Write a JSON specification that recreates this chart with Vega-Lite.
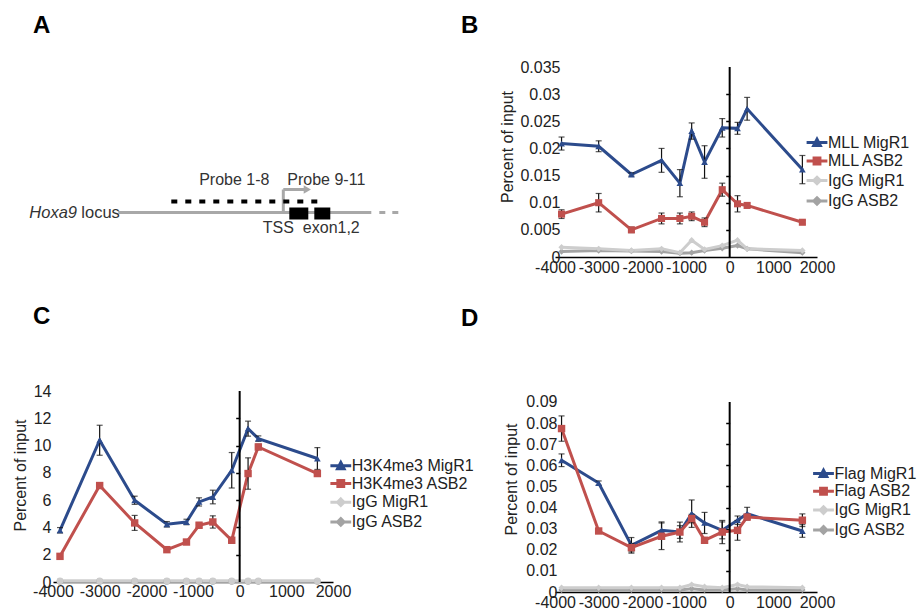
{
  "$schema": "https://vega.github.io/schema/vega-lite/v6.json",
  "background": "white",
  "padding": {"left": 12, "top": 13, "right": 4, "bottom": 4},
  "columns": 2,
  "bounds": "flush",
  "align": "all",
  "spacing": {"row": 123, "column": 222},
  "resolve": {"scale": {"color": "independent", "shape": "independent"}, "legend": {"color": "independent", "shape": "independent"}},
  "config": {
    "view": {"stroke": null},
    "font": "Liberation Sans",
    "axis": {"labelFont": "Liberation Sans", "labelFontSize": 16, "labelColor": "#222", "titleFont": "Liberation Sans", "titleFontSize": 16, "titleColor": "#222", "titleFontWeight": "normal", "grid": false},
    "legend": {"labelFont": "Liberation Sans", "labelFontSize": 16, "labelColor": "#222", "symbolStrokeWidth": 3, "labelOffset": 3, "symbolSize": 169, "rowPadding": 0.5},
    "title": {"font": "Liberation Sans", "fontSize": 24, "fontWeight": "bold", "color": "#000", "anchor": "start", "frame": "group"}
  },
  "datasets": {
    "B": [
      {"x":-3850,"s":"IgG ASB2","v":0.0010,"e":0},{"x":-3000,"s":"IgG ASB2","v":0.0012,"e":0},{"x":-2250,"s":"IgG ASB2","v":0.0011,"e":0},{"x":-1560,"s":"IgG ASB2","v":0.0010,"e":0},{"x":-1140,"s":"IgG ASB2","v":0.0007,"e":0},{"x":-870,"s":"IgG ASB2","v":0.0008,"e":0},{"x":-575,"s":"IgG ASB2","v":0.0012,"e":0},{"x":-170,"s":"IgG ASB2","v":0.0016,"e":0},{"x":180,"s":"IgG ASB2","v":0.0021,"e":0},{"x":400,"s":"IgG ASB2","v":0.0015,"e":0},{"x":1665,"s":"IgG ASB2","v":0.0008,"e":0},
      {"x":-3850,"s":"IgG MigR1","v":0.0018,"e":0},{"x":-3000,"s":"IgG MigR1","v":0.0015,"e":0},{"x":-2250,"s":"IgG MigR1","v":0.0012,"e":0},{"x":-1560,"s":"IgG MigR1","v":0.0015,"e":0},{"x":-1140,"s":"IgG MigR1","v":0.0008,"e":0},{"x":-870,"s":"IgG MigR1","v":0.0031,"e":0},{"x":-575,"s":"IgG MigR1","v":0.0014,"e":0},{"x":-170,"s":"IgG MigR1","v":0.0021,"e":0},{"x":180,"s":"IgG MigR1","v":0.0031,"e":0},{"x":400,"s":"IgG MigR1","v":0.0015,"e":0},{"x":1665,"s":"IgG MigR1","v":0.0012,"e":0},
      {"x":-3850,"s":"MLL MigR1","v":0.0209,"e":0.0012},{"x":-3000,"s":"MLL MigR1","v":0.0204,"e":0.0010},{"x":-2250,"s":"MLL MigR1","v":0.0152,"e":0.0003},{"x":-1560,"s":"MLL MigR1","v":0.0178,"e":0.0022},{"x":-1140,"s":"MLL MigR1","v":0.0136,"e":0.0025},{"x":-870,"s":"MLL MigR1","v":0.0232,"e":0.0015},{"x":-575,"s":"MLL MigR1","v":0.0175,"e":0.0030},{"x":-170,"s":"MLL MigR1","v":0.0238,"e":0.0017},{"x":180,"s":"MLL MigR1","v":0.0237,"e":0.0011},{"x":400,"s":"MLL MigR1","v":0.0273,"e":0.0021},{"x":1665,"s":"MLL MigR1","v":0.0161,"e":0.0026},
      {"x":-3850,"s":"MLL ASB2","v":0.0079,"e":0.0008},{"x":-3000,"s":"MLL ASB2","v":0.0100,"e":0.0017},{"x":-2250,"s":"MLL ASB2","v":0.0050,"e":0.0005},{"x":-1560,"s":"MLL ASB2","v":0.0071,"e":0.0010},{"x":-1140,"s":"MLL ASB2","v":0.0071,"e":0.0010},{"x":-870,"s":"MLL ASB2","v":0.0075,"e":0.0008},{"x":-575,"s":"MLL ASB2","v":0.0064,"e":0.0008},{"x":-170,"s":"MLL ASB2","v":0.0124,"e":0.0012},{"x":180,"s":"MLL ASB2","v":0.0098,"e":0.0015},{"x":400,"s":"MLL ASB2","v":0.0095,"e":0.0004},{"x":1665,"s":"MLL ASB2","v":0.0064,"e":0.0003}
    ],
    "C": [
      {"x":-3850,"s":"IgG ASB2","v":0.05,"e":0},{"x":-3000,"s":"IgG ASB2","v":0.05,"e":0},{"x":-2250,"s":"IgG ASB2","v":0.05,"e":0},{"x":-1560,"s":"IgG ASB2","v":0.05,"e":0},{"x":-1140,"s":"IgG ASB2","v":0.05,"e":0},{"x":-870,"s":"IgG ASB2","v":0.05,"e":0},{"x":-575,"s":"IgG ASB2","v":0.05,"e":0},{"x":-170,"s":"IgG ASB2","v":0.05,"e":0},{"x":180,"s":"IgG ASB2","v":0.05,"e":0},{"x":400,"s":"IgG ASB2","v":0.05,"e":0},{"x":1665,"s":"IgG ASB2","v":0.05,"e":0},
      {"x":-3850,"s":"IgG MigR1","v":0.08,"e":0},{"x":-3000,"s":"IgG MigR1","v":0.08,"e":0},{"x":-2250,"s":"IgG MigR1","v":0.08,"e":0},{"x":-1560,"s":"IgG MigR1","v":0.08,"e":0},{"x":-1140,"s":"IgG MigR1","v":0.08,"e":0},{"x":-870,"s":"IgG MigR1","v":0.08,"e":0},{"x":-575,"s":"IgG MigR1","v":0.08,"e":0},{"x":-170,"s":"IgG MigR1","v":0.08,"e":0},{"x":180,"s":"IgG MigR1","v":0.08,"e":0},{"x":400,"s":"IgG MigR1","v":0.08,"e":0},{"x":1665,"s":"IgG MigR1","v":0.08,"e":0},
      {"x":-3850,"s":"H3K4me3 MigR1","v":3.79,"e":0.2},{"x":-3000,"s":"H3K4me3 MigR1","v":10.39,"e":1.1},{"x":-2250,"s":"H3K4me3 MigR1","v":5.99,"e":0.3},{"x":-1560,"s":"H3K4me3 MigR1","v":4.23,"e":0.2},{"x":-1140,"s":"H3K4me3 MigR1","v":4.40,"e":0.2},{"x":-870,"s":"H3K4me3 MigR1","v":5.87,"e":0.3},{"x":-575,"s":"H3K4me3 MigR1","v":6.23,"e":0.5},{"x":-170,"s":"H3K4me3 MigR1","v":8.19,"e":1.3},{"x":180,"s":"H3K4me3 MigR1","v":11.24,"e":0.55},{"x":400,"s":"H3K4me3 MigR1","v":10.51,"e":0.2},{"x":1665,"s":"H3K4me3 MigR1","v":9.05,"e":0.8},
      {"x":-3850,"s":"H3K4me3 ASB2","v":1.88,"e":0.1},{"x":-3000,"s":"H3K4me3 ASB2","v":7.07,"e":0.2},{"x":-2250,"s":"H3K4me3 ASB2","v":4.33,"e":0.55},{"x":-1560,"s":"H3K4me3 ASB2","v":2.37,"e":0.1},{"x":-1140,"s":"H3K4me3 ASB2","v":2.93,"e":0.1},{"x":-870,"s":"H3K4me3 ASB2","v":4.16,"e":0.2},{"x":-575,"s":"H3K4me3 ASB2","v":4.40,"e":0.45},{"x":-170,"s":"H3K4me3 ASB2","v":3.06,"e":0.2},{"x":180,"s":"H3K4me3 ASB2","v":7.95,"e":1.15},{"x":400,"s":"H3K4me3 ASB2","v":9.90,"e":0.2},{"x":1665,"s":"H3K4me3 ASB2","v":7.95,"e":0.1}
    ],
    "D": [
      {"x":-3850,"s":"IgG ASB2","v":0.001,"e":0},{"x":-3000,"s":"IgG ASB2","v":0.001,"e":0},{"x":-2250,"s":"IgG ASB2","v":0.001,"e":0},{"x":-1560,"s":"IgG ASB2","v":0.001,"e":0},{"x":-1140,"s":"IgG ASB2","v":0.001,"e":0},{"x":-870,"s":"IgG ASB2","v":0.0015,"e":0},{"x":-575,"s":"IgG ASB2","v":0.001,"e":0},{"x":-170,"s":"IgG ASB2","v":0.001,"e":0},{"x":180,"s":"IgG ASB2","v":0.0015,"e":0},{"x":400,"s":"IgG ASB2","v":0.001,"e":0},{"x":1665,"s":"IgG ASB2","v":0.001,"e":0},
      {"x":-3850,"s":"IgG MigR1","v":0.002,"e":0},{"x":-3000,"s":"IgG MigR1","v":0.002,"e":0},{"x":-2250,"s":"IgG MigR1","v":0.002,"e":0},{"x":-1560,"s":"IgG MigR1","v":0.002,"e":0},{"x":-1140,"s":"IgG MigR1","v":0.002,"e":0},{"x":-870,"s":"IgG MigR1","v":0.0035,"e":0},{"x":-575,"s":"IgG MigR1","v":0.0025,"e":0},{"x":-170,"s":"IgG MigR1","v":0.002,"e":0},{"x":180,"s":"IgG MigR1","v":0.0035,"e":0},{"x":400,"s":"IgG MigR1","v":0.0025,"e":0},{"x":1665,"s":"IgG MigR1","v":0.002,"e":0},
      {"x":-3850,"s":"Flag MigR1","v":0.0624,"e":0.003},{"x":-3000,"s":"Flag MigR1","v":0.0516,"e":0.001},{"x":-2250,"s":"Flag MigR1","v":0.0221,"e":0.0037},{"x":-1560,"s":"Flag MigR1","v":0.0292,"e":0.004},{"x":-1140,"s":"Flag MigR1","v":0.0284,"e":0.0047},{"x":-870,"s":"Flag MigR1","v":0.0371,"e":0.0065},{"x":-575,"s":"Flag MigR1","v":0.0327,"e":0.005},{"x":-170,"s":"Flag MigR1","v":0.0292,"e":0.004},{"x":180,"s":"Flag MigR1","v":0.0340,"e":0.002},{"x":400,"s":"Flag MigR1","v":0.0371,"e":0.003},{"x":1665,"s":"Flag MigR1","v":0.0289,"e":0.003},
      {"x":-3850,"s":"Flag ASB2","v":0.0774,"e":0.006},{"x":-3000,"s":"Flag ASB2","v":0.0289,"e":0.001},{"x":-2250,"s":"Flag ASB2","v":0.0210,"e":0.002},{"x":-1560,"s":"Flag ASB2","v":0.0264,"e":0.0063},{"x":-1140,"s":"Flag ASB2","v":0.0284,"e":0.003},{"x":-870,"s":"Flag ASB2","v":0.0348,"e":0.002},{"x":-575,"s":"Flag ASB2","v":0.0245,"e":0.001},{"x":-170,"s":"Flag ASB2","v":0.0284,"e":0.0055},{"x":180,"s":"Flag ASB2","v":0.0292,"e":0.0047},{"x":400,"s":"Flag ASB2","v":0.0355,"e":0.001},{"x":1665,"s":"Flag ASB2","v":0.0340,"e":0.003}
    ]
  },
  "concat": [
    {
      "width": 280, "height": 190,
      "title": {"text": "A", "dx": -20, "dy": -25},
      "encoding": {
        "x": {"type": "quantitative", "scale": {"domain": [0, 280], "nice": false, "zero": false}, "axis": null},
        "y": {"type": "quantitative", "scale": {"domain": [0, 190], "nice": false, "zero": false}, "axis": null}
      },
      "layer": [
        {
          "data": {"values": [{"x": 65.3, "x2": 318.3, "y": 44.5}, {"x": 326.3, "x2": 332.3, "y": 44.5}, {"x": 339.3, "x2": 345.3, "y": 44.5}]},
          "mark": {"type": "rule", "color": "#A8A8A8", "strokeWidth": 3},
          "encoding": {"x": {"field": "x"}, "x2": {"field": "x2"}, "y": {"field": "y"}}
        },
        {
          "data": {"values": [{"x": 230.3, "x2": 230.3, "y": 44.5, "y2": 67.5}, {"x": 230.3, "x2": 251.3, "y": 67.5, "y2": 67.5}]},
          "mark": {"type": "rule", "color": "#A8A8A8", "strokeWidth": 3},
          "encoding": {"x": {"field": "x"}, "x2": {"field": "x2"}, "y": {"field": "y"}, "y2": {"field": "y2"}}
        },
        {
          "data": {"values": [{"x": 254.3, "y": 67.5}]},
          "mark": {"type": "point", "shape": "triangle-right", "filled": true, "color": "#A8A8A8", "size": 70, "opacity": 1},
          "encoding": {"x": {"field": "x"}, "y": {"field": "y"}}
        },
        {
          "data": {"values": [{"x": 236.3, "x2": 255.3, "y": 37.5, "y2": 49.5}, {"x": 261.3, "x2": 277.3, "y": 37.5, "y2": 49.5}]},
          "mark": {"type": "rect", "color": "#000"},
          "encoding": {"x": {"field": "x"}, "x2": {"field": "x2"}, "y": {"field": "y"}, "y2": {"field": "y2"}}
        },
        {
          "data": {"values": [{"x": 118.3, "x2": 270.3, "y": 55.5}]},
          "mark": {"type": "rule", "color": "#000", "strokeWidth": 4, "strokeDash": [6, 8]},
          "encoding": {"x": {"field": "x"}, "x2": {"field": "x2"}, "y": {"field": "y"}}
        },
        {
          "data": {"values": [{"x": 181.3, "y": 77.5, "t": "Probe 1-8"}, {"x": 273.3, "y": 77.5, "t": "Probe 9-11"}, {"x": 225.3, "y": 29.5, "t": "TSS"}, {"x": 278.3, "y": 29.5, "t": "exon1,2"}]},
          "mark": {"type": "text", "fontSize": 16, "color": "#333", "align": "center", "baseline": "middle"},
          "encoding": {"x": {"field": "x"}, "y": {"field": "y"}, "text": {"field": "t"}}
        },
        {
          "data": {"values": [{"x": -23.7, "y": 44.5, "t": "Hoxa9"}]},
          "mark": {"type": "text", "fontSize": 16.5, "color": "#333", "align": "left", "baseline": "middle", "fontStyle": "italic"},
          "encoding": {"x": {"field": "x"}, "y": {"field": "y"}, "text": {"field": "t"}}
        },
        {
          "data": {"values": [{"x": 28.3, "y": 44.5, "t": "locus"}]},
          "mark": {"type": "text", "fontSize": 16.5, "color": "#333", "align": "left", "baseline": "middle"},
          "encoding": {"x": {"field": "x"}, "y": {"field": "y"}, "text": {"field": "t"}}
        }
      ]
    },
    {
      "width": 262, "height": 190,
      "title": {"text": "B", "dx": -94, "dy": -17.5},
      "layer": [
        {
          "data": {"name": "B"},
          "encoding": {
            "x": {"field": "x", "type": "quantitative", "scale": {"domain": [-4000, 2000], "nice": false, "zero": false}, "axis": {"values": [-4000, -3000, -2000, -1000, 0, 1000, 2000], "labelExpr": "'' + datum.value", "labelOverlap": false, "labelFlush": false, "ticks": false, "labelPadding": 2, "domainColor": "#000", "domainWidth": 1.5, "title": null}},
            "y": {"field": "v", "type": "quantitative", "scale": {"domain": [0, 0.035], "nice": false}, "axis": {"values": [0, 0.005, 0.01, 0.015, 0.02, 0.025, 0.03, 0.035], "format": "~g", "domain": false, "ticks": false, "labelPadding": -5, "title": "Percent of input", "titleX": -48, "titleY": 79.5, "titleAlign": "center", "titleBaseline": "middle", "titleAngle": -90}},
            "color": {"field": "s", "type": "nominal", "scale": {"domain": ["MLL MigR1", "MLL ASB2", "IgG MigR1", "IgG ASB2"], "range": ["#2C4B8C", "#C0504D", "#CDCDCD", "#A3A3A3"]}, "legend": {"title": null, "orient": "none", "legendX": 254, "legendY": 67.5, "rowPadding": 0.5}}
          },
          "layer": [
            {
              "transform": [{"filter": {"field": "s", "equal": "__none__"}}],
              "mark": {"type": "point", "filled": true, "opacity": 1},
              "encoding": {"shape": {"field": "s", "type": "nominal", "scale": {"domain": ["MLL MigR1", "MLL ASB2", "IgG MigR1", "IgG ASB2"], "range": ["M-1.6,0H1.6M-0.5,0.45L0,-0.5L0.5,0.45Z", "M-1.6,0H1.6M-0.45,-0.45H0.45V0.45H-0.45Z", "M-1.6,0H1.6M0,-0.5L0.5,0L0,0.5L-0.5,0Z", "M-1.6,0H1.6M0,-0.5L0.5,0L0,0.5L-0.5,0Z"]}, "legend": {"title": null, "orient": "none", "legendX": 254, "legendY": 67.5, "rowPadding": 0.5}}}
            },
            {"mark": {"type": "line", "strokeWidth": 3}},
            {
              "transform": [{"filter": {"field": "e", "gt": 0}}],
              "mark": {"type": "errorbar", "ticks": {"size": 6}, "thickness": 1.2},
              "encoding": {"yError": {"field": "e"}, "color": {"value": "#111"}}
            },
            {"transform": [{"filter": {"field": "s", "equal": "MLL MigR1"}}], "mark": {"type": "point", "shape": "triangle-up", "filled": true, "size": 45, "opacity": 1}},
            {"transform": [{"filter": {"field": "s", "equal": "MLL ASB2"}}], "mark": {"type": "point", "shape": "square", "filled": true, "size": 50, "opacity": 1}},
            {"transform": [{"filter": {"field": "s", "oneOf": ["IgG MigR1", "IgG ASB2"]}}], "mark": {"type": "point", "shape": "diamond", "filled": true, "size": 40, "opacity": 1}},
            {
              "data": {"values": [{"t": "Mll-ChIP"}]},
              "mark": {"type": "text", "fontSize": 15, "align": "center", "baseline": "middle"},
              "encoding": {"x": {"datum": -2031, "type": "quantitative"}, "y": {"datum": 0.0365, "type": "quantitative"}, "text": {"field": "t"}, "color": {"value": "#222"}}
            }
          ]
        },
        {
          "data": {"values": [{"a": 1}]},
          "mark": {"type": "rule", "color": "#000", "strokeWidth": 2},
          "encoding": {
            "x": {"datum": 0, "type": "quantitative"},
            "y": {"datum": 0, "type": "quantitative", "axis": {"orient": "left", "offset": -174.7, "labels": false, "domain": false, "ticks": true, "tickSize": 4, "tickWidth": 1.5, "tickColor": "#000", "values": [0.005, 0.01, 0.015, 0.02, 0.025, 0.03], "title": null, "grid": false}},
            "y2": {"datum": 0.035}
          }
        }
      ],
      "resolve": {"axis": {"y": "independent"}}
    },
    {
      "width": 280, "height": 191,
      "title": {"text": "C", "dx": -20, "dy": -50},
      "layer": [
        {
          "data": {"name": "C"},
          "encoding": {
            "x": {"field": "x", "type": "quantitative", "scale": {"domain": [-4000, 2000], "nice": false, "zero": false}, "axis": {"values": [-4000, -3000, -2000, -1000, 0, 1000, 2000], "labelExpr": "'' + datum.value", "labelOverlap": false, "labelFlush": false, "ticks": false, "labelPadding": 1, "domainColor": "#000", "domainWidth": 1.5, "title": null}},
            "y": {"field": "v", "type": "quantitative", "scale": {"domain": [0, 14], "nice": false}, "axis": {"values": [0, 2, 4, 6, 8, 10, 12, 14], "domain": false, "ticks": false, "labelPadding": 2, "title": "Percent of input", "titleX": -33, "titleY": 84, "titleAlign": "center", "titleBaseline": "middle", "titleAngle": -90}},
            "color": {"field": "s", "type": "nominal", "scale": {"domain": ["H3K4me3 MigR1", "H3K4me3 ASB2", "IgG MigR1", "IgG ASB2"], "range": ["#2C4B8C", "#C0504D", "#CDCDCD", "#A3A3A3"]}, "legend": {"title": null, "orient": "none", "legendX": 279.8, "legendY": 66.8, "rowPadding": -0.3}}
          },
          "layer": [
            {
              "transform": [{"filter": {"field": "s", "equal": "__none__"}}],
              "mark": {"type": "point", "filled": true, "opacity": 1},
              "encoding": {"shape": {"field": "s", "type": "nominal", "scale": {"domain": ["H3K4me3 MigR1", "H3K4me3 ASB2", "IgG MigR1", "IgG ASB2"], "range": ["M-1.6,0H1.6M-0.5,0.45L0,-0.5L0.5,0.45Z", "M-1.6,0H1.6M-0.45,-0.45H0.45V0.45H-0.45Z", "M-1.6,0H1.6M0,-0.5L0.5,0L0,0.5L-0.5,0Z", "M-1.6,0H1.6M0,-0.5L0.5,0L0,0.5L-0.5,0Z"]}, "legend": {"title": null, "orient": "none", "legendX": 279.8, "legendY": 66.8, "rowPadding": -0.3}}}
            },
            {"mark": {"type": "line", "strokeWidth": 3}},
            {
              "transform": [{"filter": {"field": "e", "gt": 0}}],
              "mark": {"type": "errorbar", "ticks": {"size": 6}, "thickness": 1.2},
              "encoding": {"yError": {"field": "e"}, "color": {"value": "#111"}}
            },
            {"transform": [{"filter": {"field": "s", "equal": "H3K4me3 MigR1"}}], "mark": {"type": "point", "shape": "triangle-up", "filled": true, "size": 45, "opacity": 1}},
            {"transform": [{"filter": {"field": "s", "equal": "H3K4me3 ASB2"}}], "mark": {"type": "point", "shape": "square", "filled": true, "size": 55, "opacity": 1}},
            {"transform": [{"filter": {"field": "s", "oneOf": ["IgG MigR1", "IgG ASB2"]}}], "mark": {"type": "point", "shape": "circle", "filled": true, "size": 45, "opacity": 1}},
            {
              "data": {"values": [{"t": "H3K4me3-ChIP"}]},
              "mark": {"type": "text", "fontSize": 15, "align": "center", "baseline": "middle"},
              "encoding": {"x": {"datum": -1787, "type": "quantitative"}, "y": {"datum": 14.05, "type": "quantitative"}, "text": {"field": "t"}, "color": {"value": "#222"}}
            }
          ]
        },
        {
          "data": {"values": [{"a": 1}]},
          "mark": {"type": "rule", "color": "#000", "strokeWidth": 2},
          "encoding": {
            "x": {"datum": 0, "type": "quantitative"},
            "y": {"datum": 0, "type": "quantitative", "axis": {"orient": "left", "offset": -186.7, "labels": false, "domain": false, "ticks": true, "tickSize": 4, "tickWidth": 1.5, "tickColor": "#000", "values": [2, 4, 6, 8, 10, 12], "title": null, "grid": false}},
            "y2": {"datum": 14}
          }
        }
      ],
      "resolve": {"axis": {"y": "independent"}}
    },
    {
      "width": 262, "height": 201,
      "title": {"text": "D", "dx": -94, "dy": -55.7},
      "layer": [
        {
          "data": {"name": "D"},
          "encoding": {
            "x": {"field": "x", "type": "quantitative", "scale": {"domain": [-4000, 2000], "nice": false, "zero": false}, "axis": {"values": [-4000, -3000, -2000, -1000, 0, 1000, 2000], "labelExpr": "'' + datum.value", "labelOverlap": false, "labelFlush": false, "ticks": false, "labelPadding": 2, "domainColor": "#000", "domainWidth": 1.5, "title": null}},
            "y": {"field": "v", "type": "quantitative", "scale": {"domain": [0, 0.0952], "nice": false}, "axis": {"values": [0, 0.01, 0.02, 0.03, 0.04, 0.05, 0.06, 0.07, 0.08, 0.09], "format": "~g", "domain": false, "ticks": false, "labelPadding": -2, "title": "Percent of input", "titleX": -43.5, "titleY": 88, "titleAlign": "center", "titleBaseline": "middle", "titleAngle": -90}},
            "color": {"field": "s", "type": "nominal", "scale": {"domain": ["Flag MigR1", "Flag ASB2", "IgG MigR1", "IgG ASB2"], "range": ["#2C4B8C", "#C0504D", "#CDCDCD", "#A3A3A3"]}, "legend": {"title": null, "orient": "none", "legendX": 260.5, "legendY": 74.5, "rowPadding": -0.2}}
          },
          "layer": [
            {
              "transform": [{"filter": {"field": "s", "equal": "__none__"}}],
              "mark": {"type": "point", "filled": true, "opacity": 1},
              "encoding": {"shape": {"field": "s", "type": "nominal", "scale": {"domain": ["Flag MigR1", "Flag ASB2", "IgG MigR1", "IgG ASB2"], "range": ["M-1.6,0H1.6M-0.5,0.45L0,-0.5L0.5,0.45Z", "M-1.6,0H1.6M-0.45,-0.45H0.45V0.45H-0.45Z", "M-1.6,0H1.6M0,-0.5L0.5,0L0,0.5L-0.5,0Z", "M-1.6,0H1.6M0,-0.5L0.5,0L0,0.5L-0.5,0Z"]}, "legend": {"title": null, "orient": "none", "legendX": 260.5, "legendY": 74.5, "rowPadding": -0.2}}}
            },
            {"mark": {"type": "line", "strokeWidth": 3}},
            {
              "transform": [{"filter": {"field": "e", "gt": 0}}],
              "mark": {"type": "errorbar", "ticks": {"size": 6}, "thickness": 1.2},
              "encoding": {"yError": {"field": "e"}, "color": {"value": "#111"}}
            },
            {"transform": [{"filter": {"field": "s", "equal": "Flag MigR1"}}], "mark": {"type": "point", "shape": "triangle-up", "filled": true, "size": 45, "opacity": 1}},
            {"transform": [{"filter": {"field": "s", "equal": "Flag ASB2"}}], "mark": {"type": "point", "shape": "square", "filled": true, "size": 55, "opacity": 1}},
            {"transform": [{"filter": {"field": "s", "oneOf": ["IgG MigR1", "IgG ASB2"]}}], "mark": {"type": "point", "shape": "diamond", "filled": true, "size": 40, "opacity": 1}},
            {
              "data": {"values": [{"t": "Flag(MLL-AF9)-ChIP"}]},
              "mark": {"type": "text", "fontSize": 15, "align": "center", "baseline": "middle"},
              "encoding": {"x": {"datum": -1763, "type": "quantitative"}, "y": {"datum": 0.090, "type": "quantitative"}, "text": {"field": "t"}, "color": {"value": "#222"}}
            }
          ]
        },
        {
          "data": {"values": [{"a": 1}]},
          "mark": {"type": "rule", "color": "#000", "strokeWidth": 2},
          "encoding": {
            "x": {"datum": 0, "type": "quantitative"},
            "y": {"datum": 0, "type": "quantitative", "axis": {"orient": "left", "offset": -174.7, "labels": false, "domain": false, "ticks": true, "tickSize": 4, "tickWidth": 1.5, "tickColor": "#000", "values": [0.01, 0.02, 0.03, 0.04, 0.05, 0.06, 0.07, 0.08], "title": null, "grid": false}},
            "y2": {"datum": 0.09}
          }
        }
      ],
      "resolve": {"axis": {"y": "independent"}}
    }
  ]
}
